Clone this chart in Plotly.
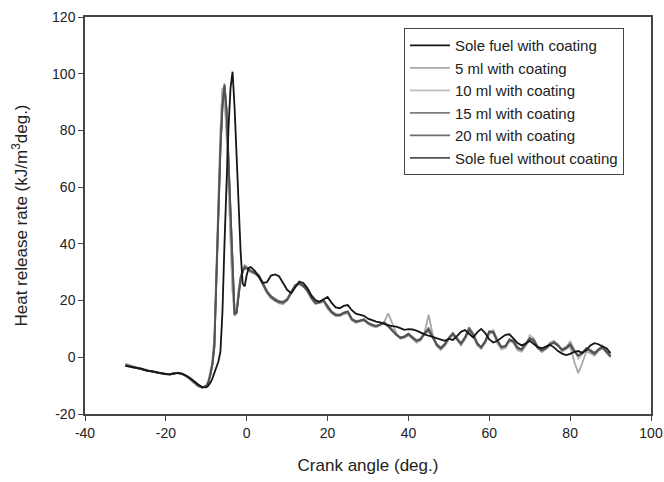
import plotly.graph_objects as go

# Crank angle grid (deg.)
crank_angle = (list(range(-30, -9))
               + [v / 2 for v in range(-19, 3)]
               + list(range(2, 91)))

series_names = ["Sole fuel with coating", "5 ml with coating", "10 ml with coating",
                "15 ml with coating", "20 ml with coating", "Sole fuel without coating"]

sole_with = [
    -3.0, -3.3, -3.5, -3.9, -4.0, -4.6, -4.8, -5.2, -5.3, -5.7, -5.8, -6.1, -5.8, -5.5, -5.8, -6.4, -7.3, -8.5, -9.6, -10.5, -10.6,
    -10.0, -9.0, -7.5, -5.5, -3.5, -1.5, 2.0, 16.0, 40.0, 63.0, 81.0, 95.0, 100.7, 88.0, 70.0, 52.0, 37.0, 26.0, 25.0, 29.0, 31.5, 31.8,
    30.5, 28.5, 26.2, 26.5, 28.8, 29.2, 28.6, 26.2, 23.8, 22.6, 24.6, 26.7, 26.2, 24.4, 21.8, 20.2, 19.6, 20.6, 21.3, 19.2,
    17.6, 17.3, 18.1, 18.4, 16.6, 15.4, 15.0, 14.6, 13.6, 13.0, 12.6, 12.3, 11.7, 11.3, 11.0, 10.8, 10.3, 9.7, 9.9, 9.8,
    9.4, 8.6, 8.1, 7.6, 7.2, 6.8, 6.2, 5.8, 6.5, 6.1, 7.5, 9.0, 9.6, 8.2, 7.0, 8.8, 10.0, 8.5, 6.3, 5.2, 5.8, 6.9, 7.9,
    8.1, 6.5, 5.0, 4.2, 4.8, 5.8, 4.6, 3.6, 3.2, 3.8, 4.4, 3.5, 2.2, 1.3, 0.8, 1.2, 1.9, 2.2, 1.6, 2.5, 4.2, 5.0, 4.6,
    3.8, 3.2, 1.5]

ml5 = [
    -2.2, -2.8, -3.2, -3.6, -4.1, -4.3, -4.9, -5.0, -5.6, -5.5, -6.0, -5.9, -5.5, -5.6, -6.0, -6.7, -7.8, -9.0, -10.2, -10.8, -9.9,
    -8.5, -5.5, -1.5, 7.0, 33.0, 59.0, 80.0, 95.0, 93.0, 80.0, 62.0, 42.0, 24.0, 15.0, 17.0, 24.0, 28.5, 31.0, 32.5, 32.0, 31.0, 30.0,
    29.5, 28.2, 25.5, 22.6, 20.8, 19.8, 19.0, 18.8, 20.0, 22.5, 25.0, 25.8, 25.0, 23.2, 20.6, 18.8, 19.2, 19.8, 17.2, 15.6,
    14.6, 14.5, 15.4, 15.8, 13.0, 12.2, 12.6, 13.0, 11.8, 11.0, 10.6, 11.2, 12.5, 15.5, 12.0, 8.5, 6.5, 6.8, 7.8, 6.5,
    5.2, 6.0, 8.8, 15.0, 8.0, 4.0, 2.6, 4.0, 6.5, 8.0, 6.0, 4.2, 6.5, 9.5, 7.6, 4.2, 3.0, 5.2, 8.6, 8.4, 5.0, 2.8, 3.4,
    6.0, 5.0, 2.5, 2.0, 4.0, 6.2, 5.6, 3.0, 1.8, 2.8, 4.2, 5.6, 4.6, 2.0, 2.8, 4.0, -1.5, -5.6, -2.0, 2.0, 1.5, 0.5, 2.2,
    3.2, 1.5, 0.0]

ml10 = [
    -2.5, -3.0, -3.4, -3.7, -4.2, -4.4, -5.0, -5.1, -5.5, -5.6, -5.9, -6.0, -5.6, -5.5, -5.9, -6.6, -7.7, -8.9, -10.1, -10.7, -10.0,
    -8.6, -5.8, -2.0, 6.0, 31.0, 57.0, 78.0, 94.5, 92.0, 79.0, 60.0, 40.0, 23.0, 14.5, 16.5, 23.5, 28.0, 30.5, 32.0, 31.8, 30.8, 30.0,
    29.6, 28.6, 25.8, 23.0, 21.2, 20.0, 19.2, 19.0, 20.2, 22.6, 25.2, 26.0, 25.4, 23.4, 20.8, 19.0, 19.0, 19.6, 17.4, 15.8,
    14.8, 14.6, 15.2, 15.6, 13.2, 12.4, 12.8, 13.0, 12.0, 11.2, 10.8, 11.4, 12.0, 11.2, 9.6, 8.2, 7.0, 7.2, 7.9, 6.8,
    5.6, 6.0, 8.0, 9.0, 7.2, 4.6, 3.2, 4.2, 6.4, 7.8, 6.8, 4.6, 6.2, 9.0, 8.2, 5.2, 3.4, 5.0, 8.0, 9.6, 6.2, 3.2, 3.2,
    5.5, 6.0, 3.8, 2.4, 4.0, 7.8, 6.8, 3.6, 2.0, 3.0, 5.2, 5.8, 4.4, 2.4, 3.4, 5.8, 3.0, -0.5, 1.0, 3.2, 2.0, 1.0, 3.0,
    4.2, 2.0, 0.5]

ml15 = [
    -2.8, -3.1, -3.7, -3.8, -4.3, -4.5, -4.8, -5.2, -5.4, -5.7, -5.9, -6.0, -5.7, -5.4, -5.8, -6.5, -7.6, -8.8, -10.0, -10.6, -10.1,
    -8.8, -6.2, -2.5, 4.0, 28.0, 53.0, 74.0, 89.0, 96.5, 88.0, 70.0, 49.0, 29.0, 15.5, 16.0, 23.0, 28.0, 30.5, 32.0, 31.5, 31.0, 30.5,
    30.0, 29.0, 26.2, 23.4, 21.6, 20.6, 19.8, 19.6, 20.6, 23.0, 25.4, 26.1, 25.2, 23.6, 21.2, 19.4, 19.6, 20.2, 18.0, 16.2,
    15.2, 15.0, 15.8, 16.2, 13.6, 12.8, 13.0, 13.4, 12.2, 11.5, 11.0, 11.6, 12.4, 11.2, 9.8, 8.0, 7.0, 7.4, 8.4, 7.2,
    6.0, 6.4, 8.4, 10.5, 7.4, 4.6, 3.4, 4.8, 7.0, 8.6, 6.8, 5.0, 7.2, 10.6, 8.4, 5.0, 3.6, 5.8, 9.2, 9.2, 6.0, 3.6, 4.0,
    6.4, 5.8, 3.4, 2.8, 4.8, 6.8, 6.2, 3.6, 2.4, 3.4, 4.8, 5.4, 4.2, 2.8, 3.6, 4.8, 2.4, 0.6, 1.6, 3.2, 2.4, 1.4, 2.8,
    3.8, 2.2, 0.6]

ml20 = [
    -2.6, -3.0, -3.6, -3.9, -4.1, -4.6, -4.8, -5.1, -5.5, -5.6, -6.0, -5.9, -5.7, -5.6, -5.9, -6.6, -7.6, -8.8, -10.0, -10.7, -10.2,
    -8.9, -6.4, -2.8, 3.5, 27.0, 52.0, 73.0, 88.0, 95.5, 87.0, 69.0, 48.0, 28.0, 15.0, 15.5, 22.5, 27.5, 30.0, 31.5, 31.2, 30.8, 30.2,
    29.6, 28.4, 25.6, 23.0, 21.2, 20.0, 19.4, 19.2, 20.2, 22.8, 25.4, 26.0, 25.0, 23.4, 20.8, 19.0, 19.4, 20.0, 17.6, 15.8,
    14.8, 14.8, 15.6, 16.0, 13.4, 12.4, 12.8, 13.2, 12.0, 11.3, 11.0, 11.6, 12.0, 10.8, 9.4, 7.8, 6.8, 7.2, 8.0, 7.0,
    5.8, 6.6, 8.6, 9.8, 7.2, 4.6, 3.2, 4.6, 6.8, 8.4, 6.6, 4.8, 7.0, 9.8, 8.2, 5.0, 3.4, 5.4, 9.0, 8.8, 5.8, 3.6, 3.8,
    6.0, 5.4, 3.2, 2.8, 4.6, 6.6, 6.0, 3.4, 2.4, 3.2, 4.6, 5.0, 4.0, 2.6, 3.4, 4.4, 2.2, 0.8, 1.4, 3.0, 2.6, 1.6, 2.8,
    3.4, 2.0, 0.2]

sole_without = [
    -2.9, -3.2, -3.6, -3.7, -4.2, -4.5, -4.9, -5.0, -5.5, -5.7, -5.9, -6.0, -5.6, -5.5, -5.9, -6.6, -7.6, -8.9, -10.0, -10.6, -10.2,
    -8.9, -6.3, -2.6, 3.8, 27.5, 52.5, 73.5, 88.5, 96.0, 87.5, 69.5, 48.5, 28.5, 15.2, 15.8, 22.8, 27.8, 30.2, 31.8, 31.5, 31.0, 30.4,
    29.8, 28.8, 26.0, 23.2, 21.4, 20.3, 19.6, 19.4, 20.4, 22.8, 25.3, 26.0, 25.2, 23.6, 21.0, 19.2, 19.4, 20.1, 17.8, 16.0,
    15.0, 14.9, 15.7, 16.1, 13.4, 12.6, 12.9, 13.3, 12.1, 11.4, 11.0, 11.6, 12.2, 11.0, 9.5, 8.0, 6.9, 7.3, 8.2, 7.0,
    5.8, 6.3, 8.5, 9.6, 7.0, 4.3, 3.2, 4.5, 6.8, 8.2, 6.5, 4.8, 6.9, 9.8, 8.0, 4.8, 3.5, 5.6, 9.0, 8.8, 5.7, 3.6, 4.0,
    6.2, 5.5, 3.3, 2.8, 4.6, 6.7, 6.0, 3.5, 2.4, 3.3, 4.6, 5.2, 4.2, 2.6, 3.2, 4.5, 2.0, 0.5, 1.5, 3.0, 2.2, 1.2, 2.6,
    3.6, 2.0, 0.5]

series_values = [sole_with, ml5, ml10, ml15, ml20, sole_without]
series_colors = ["#151515", "#a8a8a8", "#bcbcbc", "#7e7e7e", "#6c6c6c", "#525252"]

x_ticks = [-40, -20, 0, 20, 40, 60, 80, 100]
x_tick_labels = ["-40", "-20", "0", "20", "40", "60", "80", "100"]
y_ticks = [-20, 0, 20, 40, 60, 80, 100, 120]
y_tick_labels = ["-20", "0", "20", "40", "60", "80", "100", "120"]

fig = go.Figure()
# draw light ones first, dark ones on top; legend order kept by legendrank
draw_order = [2, 1, 3, 4, 5, 0]
for i in draw_order:
    fig.add_trace(go.Scatter(
        x=crank_angle, y=series_values[i], mode="lines", name=series_names[i],
        line=dict(color=series_colors[i], width=1.8), legendrank=i + 1))

font_family = "Arial"
axis_common = dict(showgrid=False, zeroline=False, showline=True, linecolor="#444444",
                   linewidth=1.5, mirror=True, ticks="outside", ticklen=5, tickwidth=1.2,
                   tickcolor="#444444", automargin=False,
                   tickfont=dict(size=14, color="#222222", family=font_family))

fig.update_layout(
    width=664, height=482,
    margin=dict(l=85, r=13, t=17, b=68),
    paper_bgcolor="white", plot_bgcolor="white",
    font=dict(family=font_family, color="#222222"),
    showlegend=True,
    legend=dict(x=0.5636, y=0.972, xanchor="left", yanchor="top",
                bordercolor="#444444", borderwidth=1, bgcolor="white",
                font=dict(size=15, color="#222222", family=font_family),
                itemwidth=40, tracegroupgap=0),
    xaxis=dict(range=[-40, 100], tickvals=x_ticks, ticktext=x_tick_labels,
               title=dict(text="Crank angle (deg.)", font=dict(size=17), standoff=20),
               **axis_common),
    yaxis=dict(range=[-20, 120], tickvals=y_ticks, ticktext=y_tick_labels,
               title=dict(text="Heat release rate (kJ/m<sup>3</sup>deg.)", font=dict(size=17), standoff=20),
               **axis_common),
)

# remove the browser's default 8px page margin so the figure fills the window exactly
fig.write_html("out.html",
               config={"displayModeBar": False},
               post_script="document.body.style.margin='0';document.body.style.overflow='hidden';")
